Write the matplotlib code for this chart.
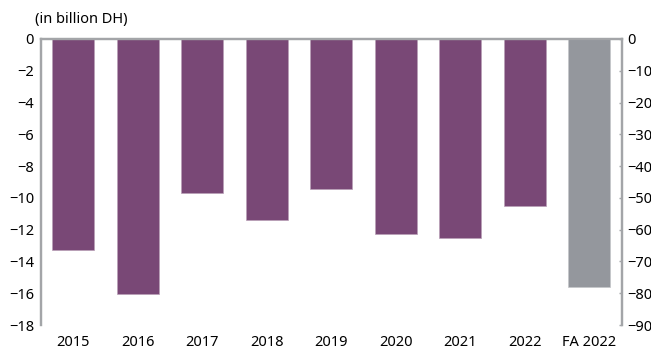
import numpy as np
import matplotlib.pyplot as plt

plt.rcParams['font.family'] = ['Noto Sans', 'DejaVu Sans']

#categories and values (billion DH)
years = ['2015', '2016', '2017', '2018', '2019', '2020', '2021', '2022']
values = [-13.3, -16.05, -9.7, -11.4, -9.45, -12.3, -12.5, -10.5]
fa_label = 'FA 2022'
fa_value = -77.9    #read on right axis

labels = years + [fa_label]
x = np.arange(len(labels))

purple = '#794876'
grey_bar = '#94979d'
axis_grey = '#a3a5a8'

fig = plt.figure(figsize=(6.51, 3.51), dpi=100)
ax = fig.add_axes([0.063, 0.074, 0.892, 0.815])
ax2 = ax.twinx()

#left axis bars
ax.bar(x[:len(years)], values, width=0.65, color=purple, edgecolor='#b9a0b7', linewidth=0.5)
#right axis bar
ax2.bar(x[len(years):], [fa_value], width=0.65, color=grey_bar, edgecolor='#c4c6c9', linewidth=0.5)

ax.set_xlim(-0.5, len(labels) - 0.5)
ax.set_ylim(-18, 0)
ax2.set_ylim(-90, 0)
ax.set_yticks(np.arange(-18, 1, 2))
ax2.set_yticks(np.arange(-90, 1, 10))

ax.set_xticks(x)
ax.set_xticklabels(labels)

for a in (ax, ax2):
    a.spines['bottom'].set_visible(False)
    for s in ('left', 'right', 'top'):
        a.spines[s].set_color(axis_grey)
        a.spines[s].set_linewidth(1.6)
    a.tick_params(axis='y', labelsize=10.5, colors='black', length=0, pad=6)
    a.tick_params(axis='x', labelsize=10.5, length=0, pad=7)
    a.set_facecolor('none')

ax.tick_params(axis='y', labelcolor='black', pad=5)
ax2.tick_params(axis='y', direction='in', length=2, color=axis_grey, width=1, pad=4)

fig.text(0.053, 0.945, '(in billion DH)', fontsize=10.5, ha='left', va='center')

fig.savefig('out.png', dpi=100)
